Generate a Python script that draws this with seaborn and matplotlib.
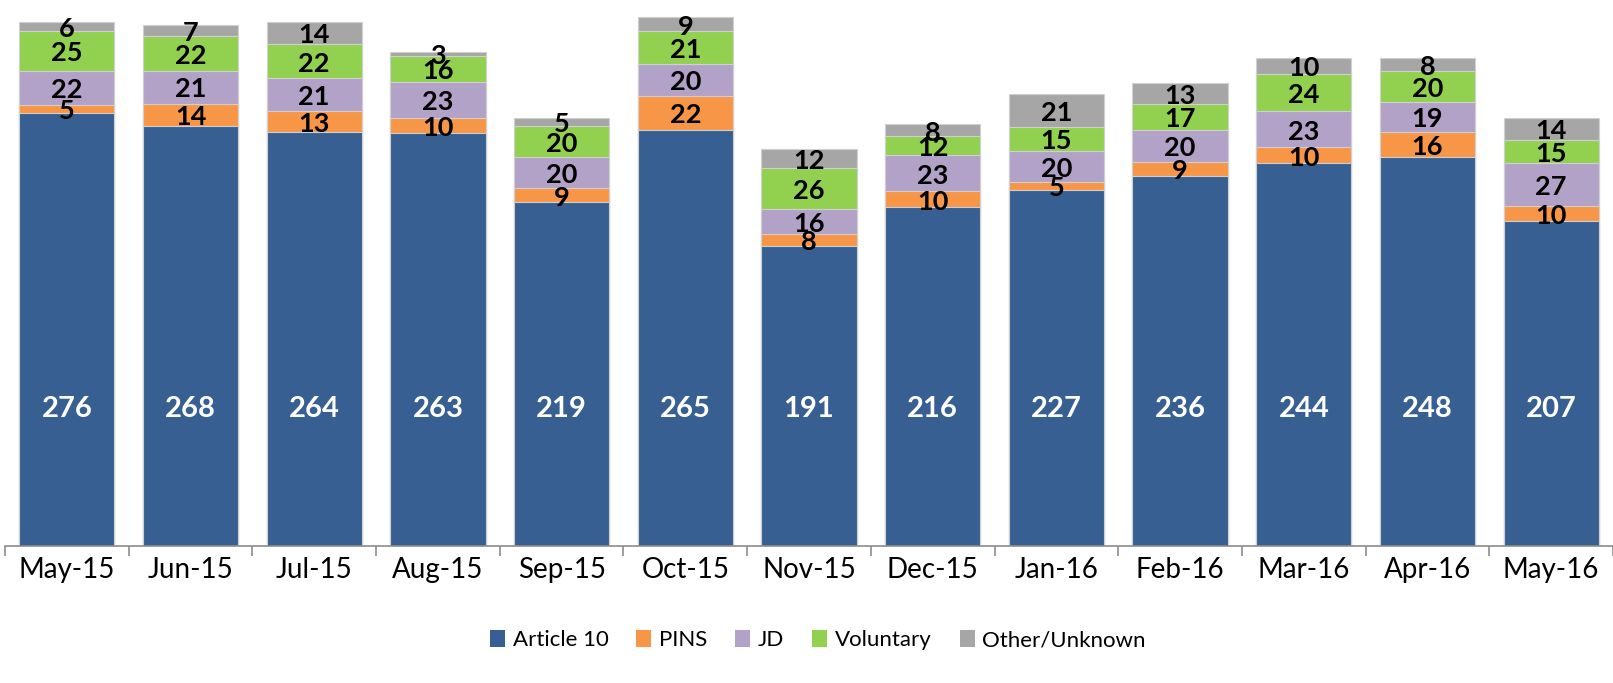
import matplotlib
matplotlib.use('Agg')
import matplotlib.pyplot as plt
from matplotlib.patches import Patch
import numpy as np
import pandas as pd
import seaborn as sns

# data
months = ['May-15', 'Jun-15', 'Jul-15', 'Aug-15', 'Sep-15', 'Oct-15', 'Nov-15',
          'Dec-15', 'Jan-16', 'Feb-16', 'Mar-16', 'Apr-16', 'May-16']
article10 = [276, 268, 264, 263, 219, 265, 191, 216, 227, 236, 244, 248, 207]
pins = [5, 14, 13, 10, 9, 22, 8, 10, 5, 9, 10, 16, 10]
jd = [22, 21, 21, 23, 20, 20, 16, 23, 20, 20, 23, 19, 27]
voluntary = [25, 22, 22, 16, 20, 21, 26, 12, 15, 17, 24, 20, 15]
other = [6, 7, 14, 3, 5, 9, 12, 8, 21, 13, 10, 8, 14]

series_names = ['Article 10', 'PINS', 'JD', 'Voluntary', 'Other/Unknown']
series_vals = [article10, pins, jd, voluntary, other]
colors = ['#375F92', '#F79646', '#B3A2C7', '#92D050', '#A6A6A6']

sns.set_theme(style='white')
plt.rcParams['font.family'] = ['Lato', 'DejaVu Sans']

fig = plt.figure(figsize=(16.13, 6.83), dpi=100)
ax = fig.add_axes([0.0031, 0.2006, 0.9969, 0.7994])

# stacked bars: draw cumulative totals, tallest first
vals = np.array(series_vals)
cum = np.cumsum(vals, axis=0)
for i in range(len(series_names) - 1, -1, -1):
    df = pd.DataFrame({'month': months, 'value': cum[i]})
    sns.barplot(data=df, x='month', y='value', color=colors[i], width=0.77,
                saturation=1, edgecolor='#D0D0D0', linewidth=0.8, ax=ax)

# segment labels
for j in range(len(months)):
    ax.text(j, 87, str(article10[j]), ha='center', va='center', color='white',
            fontsize=21, fontweight='bold')
    for i in range(1, len(series_names)):
        mid = cum[i][j] - vals[i][j] / 2
        ax.text(j, mid - 1.5, str(vals[i][j]), ha='center', va='center',
                color='black', fontsize=19.5, fontweight='bold')

ax.set_xlim(-0.5, 12.5)
ax.set_ylim(0, 348)
ax.set_xlabel('')
ax.set_ylabel('')
ax.set_yticks([])
for s in ['top', 'right', 'left']:
    ax.spines[s].set_visible(False)
ax.spines['bottom'].set_color('#8C8C8C')
ax.spines['bottom'].set_linewidth(1.2)

# tick marks between categories
ax.set_xticks(np.arange(-0.5, 13, 1), minor=True)
ax.tick_params(axis='x', which='minor', length=7, width=1.2, color='#8C8C8C',
               direction='out', bottom=True)
ax.tick_params(axis='x', which='major', length=0, pad=8, labelsize=20,
               labelcolor='black')

handles = [Patch(facecolor=c, edgecolor='none') for c in colors]
fig.legend(handles, series_names, loc='center', bbox_to_anchor=(0.507, 0.063),
           ncol=5, frameon=False, fontsize=16, handlelength=0.68,
           handleheight=0.8, handletextpad=0.35, columnspacing=1.25,
           labelcolor='black')

fig.savefig('out.png', dpi=100)
